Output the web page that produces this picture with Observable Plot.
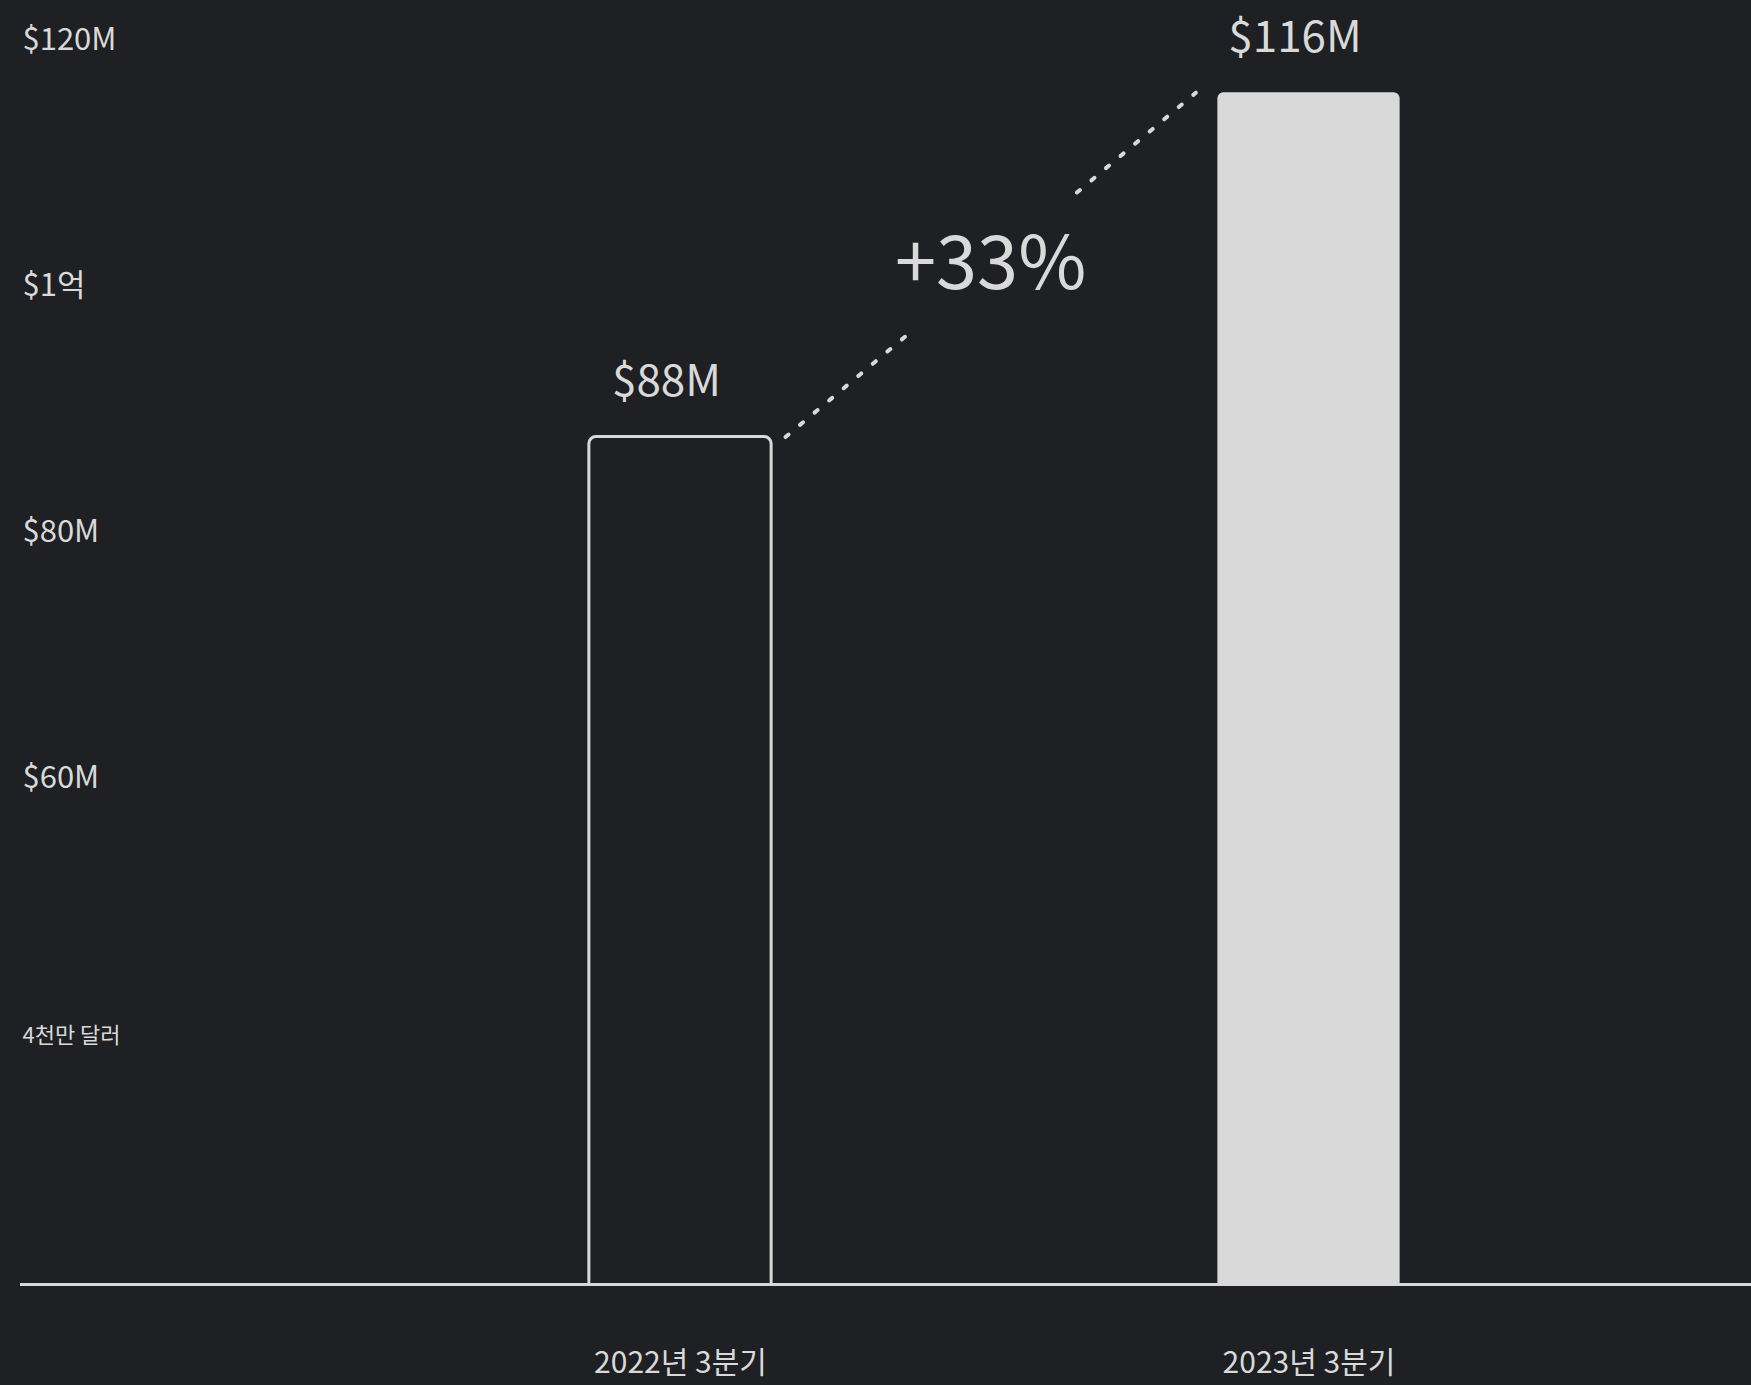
<!DOCTYPE html>
<html>
<head>
<meta charset="utf-8">
<script src="https://cdn.jsdelivr.net/npm/d3@7"></script>
<script src="https://cdn.jsdelivr.net/npm/@observablehq/plot@0.6"></script>
<style>
  html, body { margin: 0; padding: 0; background: #1e2023; overflow: hidden; }
  #chart svg { display: block; }
</style>
</head>
<body>
<div id="chart"></div>
<script>
// ---- data ----
const categories = ["2022년 3분기", "2023년 3분기"];
const revenue = [88, 116];
const valueLabels = ["$88M", "$116M"];
const growthLabel = "+33%";
const yTicks = [40, 60, 80, 100, 120];
const yTickLabels = ["4천만 달러", "$60M", "$80M", "$1억", "$120M"];

// ---- layout / style ----
const BG = "#1e2023";
const FG = "#d9d9d9";
const FONT = "'Noto Sans CJK KR', 'Noto Sans', sans-serif";
const yDomain = [19.1, 120];
const halfBar = 0.145;          // half bar width in category-index units
const connInset = [0.167, 0.18]; // connector start/end distance from bar centres
const connGap = [0.3, 0.71];     // break in the connector around the growth label

const bars = categories.map((c, i) => ({i, category: c, value: revenue[i], label: valueLabels[i]}));

const a = {x: bars[0].i + connInset[0], y: bars[0].value};
const b = {x: bars[1].i - connInset[1], y: bars[1].value};
const along = t => ({x: a.x + (b.x - a.x) * t, y: a.y + (b.y - a.y) * t});
const segments = [[0, connGap[0]], [connGap[1], 1]].map(([t0, t1]) => ({p: along(t0), q: along(t1)}));
const mid = along(0.5);

const tickLabel = v => yTickLabels[yTicks.indexOf(v)];

const chart = Plot.plot({
  width: 1751,
  height: 1385,
  marginTop: 43,
  marginBottom: 101,
  marginLeft: 20,
  marginRight: 0,
  style: {background: BG, color: FG, fontFamily: FONT},
  x: {type: "linear", domain: [0, 1], range: [680, 1308.5], label: null},
  y: {domain: yDomain, label: null},
  marks: [
    // outlined bar (previous period)
    Plot.rect(bars, {
      filter: d => d.i === 0,
      x1: d => d.i - halfBar, x2: d => d.i + halfBar,
      y1: 0, y2: "value",
      fill: BG, stroke: FG, strokeWidth: 3, rx: 7, clip: true
    }),
    // filled bar (current period)
    Plot.rect(bars, {
      filter: d => d.i === 1,
      x1: d => d.i - halfBar, x2: d => d.i + halfBar,
      y1: 0, y2: "value",
      fill: FG, rx: 6, clip: true
    }),
    // baseline
    Plot.ruleY([yDomain[0]], {stroke: FG, strokeWidth: 3}),
    // dashed connector
    Plot.link(segments, {
      x1: d => d.p.x, y1: d => d.p.y, x2: d => d.q.x, y2: d => d.q.y,
      stroke: FG, strokeWidth: 4, strokeDasharray: "4,15", strokeLinecap: "round"
    }),
    // value labels
    Plot.text(bars, {x: "i", y: "value", text: "label", dy: -55, dx: -14, fontSize: 44, fill: FG}),
    // growth label
    Plot.text([mid], {x: "x", y: "y", text: () => growthLabel, fontSize: 74, fill: FG}),
    // axes
    Plot.axisX({ticks: [0, 1], tickFormat: i => categories[i], tickSize: 0, tickPadding: 67, fontSize: 30, anchor: "bottom", label: null}),
    Plot.axisY({ticks: [60, 80, 100, 120], tickFormat: tickLabel, tickSize: 0, tickPadding: 0, textAnchor: "start", dx: 2, dy: -3, fontSize: 31, anchor: "left", label: null}),
    Plot.axisY({ticks: [40], tickFormat: tickLabel, tickSize: 0, tickPadding: 0, textAnchor: "start", dx: 2, dy: 9, fontSize: 22, anchor: "left", label: null})
  ]
});

document.getElementById("chart").appendChild(chart);
</script>
</body>
</html>
